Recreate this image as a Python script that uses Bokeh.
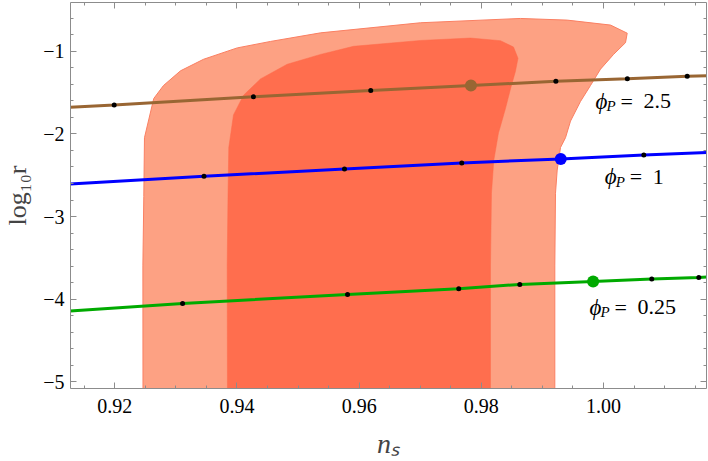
from bokeh.plotting import figure
from bokeh.models import LinearAxis, FixedTicker, ColumnDataSource
from bokeh.core.properties import value
from bokeh.embed import file_html
from bokeh.resources import INLINE

# ---------------- data ----------------
# 95% (outer) and 68% (inner) confidence regions in (n_s, log10 r)
outer_ns = [0.92462, 0.92460, 0.92475, 0.92486, 0.92638, 0.92797, 0.93076, 0.93452,
            0.94004, 0.94549, 0.95368, 0.97004, 0.98641, 0.99406, 1.00115, 1.00388,
            1.00360, 1.00164, 0.99951, 0.99787, 0.99623, 0.99460, 0.99378, 0.99296,
            0.99242, 0.99214, 0.99203, 0.99203]
outer_lr = [-5.3, -3.587, -2.757, -2.046, -1.572, -1.415, -1.237, -1.098,
            -0.960, -0.882, -0.778, -0.656, -0.604, -0.624, -0.684, -0.782,
            -0.897, -1.039, -1.217, -1.415, -1.608, -1.845, -2.046, -2.165,
            -2.437, -2.718, -3.587, -5.3]

inner_ns = [0.93845, 0.93840, 0.93853, 0.93866, 0.93943, 0.94107, 0.94385, 0.94822,
            0.95367, 0.95908, 0.97004, 0.97823, 0.98314, 0.98527, 0.98600, 0.98559,
            0.98478, 0.98396, 0.98314, 0.98281, 0.98204, 0.98166, 0.98150, 0.98150]
inner_lr = [-5.3, -3.587, -2.757, -2.166, -1.770, -1.533, -1.335, -1.158,
            -1.039, -0.941, -0.870, -0.841, -0.873, -0.950, -1.086, -1.241,
            -1.454, -1.691, -1.904, -1.987, -2.319, -2.718, -3.587, -5.3]

# phi_P = 2.5 (brown)
brown_line_ns = [0.9127, 0.9199, 0.9427, 0.9619, 0.9783, 0.9922, 1.0039, 1.0137, 1.0170]
brown_line_lr = [-1.679, -1.652, -1.552, -1.474, -1.415, -1.363, -1.332, -1.303, -1.296]
brown_dot_ns = [0.9199, 0.9427, 0.9619, 0.9922, 1.0039, 1.0137]
brown_dot_lr = [-1.652, -1.552, -1.474, -1.363, -1.332, -1.303]
brown_big_ns = [0.9783]
brown_big_lr = [-1.415]

# phi_P = 1 (blue)
blue_line_ns = [0.9127, 0.9346, 0.9576, 0.9768, 0.9930, 1.0066, 1.0170]
blue_line_lr = [-2.607, -2.512, -2.424, -2.351, -2.303, -2.256, -2.224]
blue_dot_ns = [0.9346, 0.9576, 0.9768, 1.0066]
blue_dot_lr = [-2.512, -2.424, -2.351, -2.256]
blue_big_ns = [0.9930]
blue_big_lr = [-2.303]

# phi_P = 0.25 (green)
green_line_ns = [0.9127, 0.9311, 0.9581, 0.9763, 0.9863, 0.9983, 1.0079, 1.0156, 1.0170]
green_line_lr = [-4.143, -4.052, -3.941, -3.872, -3.820, -3.784, -3.756, -3.737, -3.729]
green_dot_ns = [0.9311, 0.9581, 0.9763, 0.9863, 1.0079, 1.0156]
green_dot_lr = [-4.052, -3.941, -3.872, -3.820, -3.756, -3.737]
green_big_ns = [0.9983]
green_big_lr = [-3.784]

# curve labels
label_ns = [0.9987, 1.0002, 0.9977]
label_lr = [-1.608, -2.520, -4.096]
label_vals = ["2.5", "1", "0.25"]

x_ticks = [0.92, 0.94, 0.96, 0.98, 1.00]
x_tick_labels = ["0.92", "0.94", "0.96", "0.98", "1.00"]
y_ticks = [-5, -4, -3, -2, -1]
y_tick_labels = ["\u22125", "\u22124", "\u22123", "\u22122", "\u22121"]

# ---------------- figure ----------------
SERIF = "Liberation Serif"
p = figure(width=708, height=461, x_range=(0.91275, 1.01686), y_range=(-5.079, -0.411),
           output_backend="svg", toolbar_location=None,
           min_border_left=70, min_border_right=2, min_border_top=2, min_border_bottom=65)
p.xgrid.visible = False
p.ygrid.visible = False
p.outline_line_color = None

p.patch(outer_ns, outer_lr, fill_color="#FDA183", line_color="#FA7F62", line_width=1)
p.patch(inner_ns, inner_lr, fill_color="#FF6E4E", line_color="#FF6A4A", line_width=0.5)

for lx, ly, dx, dy, bx, by, col in [
    (brown_line_ns, brown_line_lr, brown_dot_ns, brown_dot_lr, brown_big_ns, brown_big_lr, "#996633"),
    (blue_line_ns, blue_line_lr, blue_dot_ns, blue_dot_lr, blue_big_ns, blue_big_lr, "#0000FF"),
    (green_line_ns, green_line_lr, green_dot_ns, green_dot_lr, green_big_ns, green_big_lr, "#00AA00"),
]:
    p.line(lx, ly, line_color=col, line_width=3)
    p.scatter(dx, dy, size=5, fill_color="black", line_color=None)
    p.scatter(bx, by, size=12, fill_color=col, line_color=None)

src = ColumnDataSource(dict(x=label_ns, y=label_lr, v=label_vals,
                            phi=["\u03d5"] * 3, sub=["P"] * 3, eq=["="] * 3))
p.text(x="x", y="y", text="phi", source=src, text_font=value(SERIF), text_font_style="italic",
       text_font_size="23px", text_baseline="middle", text_align="left")
p.text(x="x", y="y", text="sub", source=src, text_font=value(SERIF), text_font_style="italic",
       text_font_size="15px", text_baseline="middle", text_align="left", x_offset=11, y_offset=5)
p.text(x="x", y="y", text="eq", source=src, text_font=value(SERIF),
       text_font_size="22px", text_baseline="middle", text_align="left", x_offset=25)
p.text(x="x", y="y", text="v", source=src, text_font=value(SERIF),
       text_font_size="22px", text_baseline="middle", text_align="left", x_offset=48)

AX = "#8c8c8c"
def style(ax, labels=True):
    ax.axis_line_color = AX
    ax.major_tick_line_color = AX
    ax.minor_tick_line_color = AX
    ax.major_tick_in = 6
    ax.major_tick_out = 0
    ax.minor_tick_in = 3
    ax.minor_tick_out = 0
    ax.major_label_text_font = SERIF
    ax.major_label_text_color = "black"
    if labels:
        ax.major_label_text_font_size = "20px"
    else:
        ax.major_label_text_font_size = "1px"
        ax.major_label_standoff = 0

x_minor = [round(0.915 + 0.005 * i, 3) for i in range(21)]
y_minor = [round(-5.2 + 0.2 * i, 1) for i in range(25)]
xt = FixedTicker(ticks=x_ticks, minor_ticks=x_minor)
yt = FixedTicker(ticks=y_ticks, minor_ticks=y_minor)

p.xaxis.ticker = xt
p.yaxis.ticker = yt
p.xaxis.major_label_overrides = dict(zip(x_ticks, x_tick_labels))
p.yaxis.major_label_overrides = dict(zip(y_ticks, y_tick_labels))
style(p.xaxis[0]); style(p.yaxis[0])
p.xaxis.major_label_standoff = 10
p.yaxis.major_label_standoff = 6
p.xaxis.axis_label = "n\u209b"
p.xaxis.axis_label_text_font = SERIF
p.xaxis.axis_label_text_font_style = "italic"
p.xaxis.axis_label_text_font_size = "28px"
p.xaxis.axis_label_standoff = 12
p.yaxis.axis_label = "log\u2081\u2080r"
p.yaxis.axis_label_text_font = SERIF
p.yaxis.axis_label_text_font_style = "normal"
p.yaxis.axis_label_text_font_size = "26px"
p.yaxis.axis_label_standoff = 8

top = LinearAxis(ticker=xt, major_label_overrides={t: "" for t in x_ticks}); style(top, False)
right = LinearAxis(ticker=yt, major_label_overrides={t: "" for t in y_ticks}); style(right, False)
p.add_layout(top, "above")
p.add_layout(right, "right")

open("out.html", "w").write(file_html(p, INLINE))
